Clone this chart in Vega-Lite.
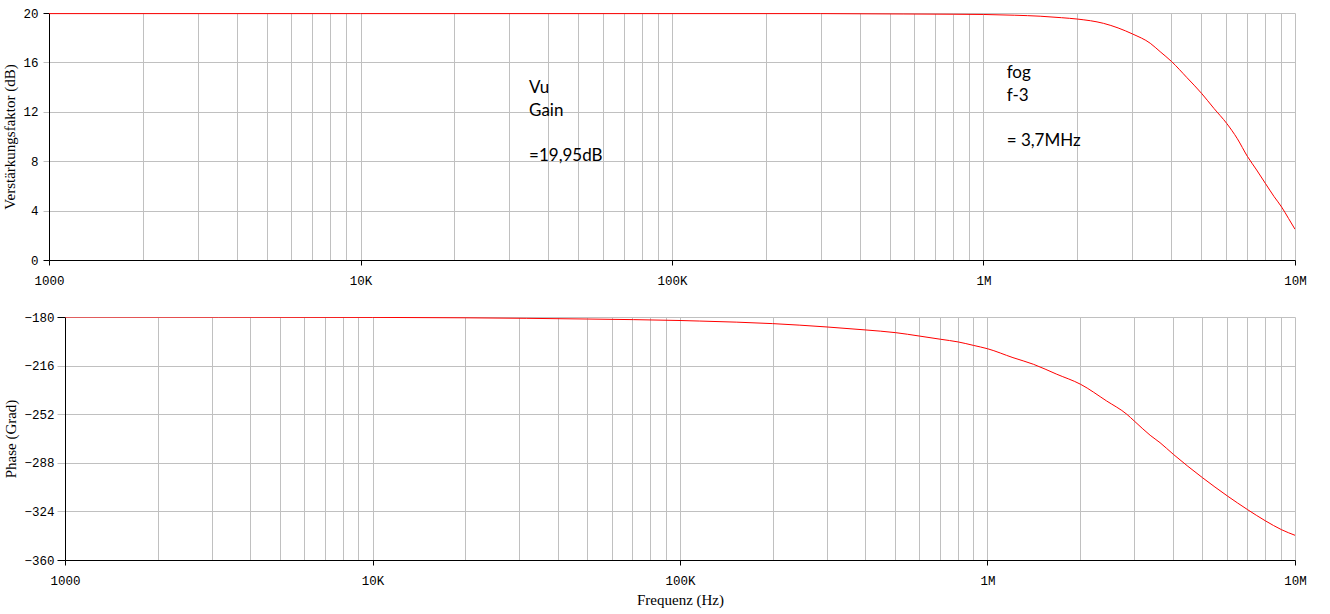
{
  "$schema": "https://vega.github.io/schema/vega-lite/v6.json",
  "background": "white",
  "padding": {"left": 2, "top": 7, "right": 10, "bottom": 2},
  "config": {
    "view": {"stroke": null},
    "axis": {
      "domainColor": "#000000",
      "domainWidth": 1,
      "tickColor": "#000000",
      "tickWidth": 1,
      "gridColor": "#c0c0c0",
      "gridWidth": 1,
      "gridOpacity": 1,
      "labelFont": "Liberation Mono",
      "labelFontSize": 12.5,
      "labelColor": "#000000",
      "titleFont": "Liberation Serif",
      "titleFontSize": 15,
      "titleFontWeight": "normal",
      "titleColor": "#000000"
    }
  },
  "datasets": {
    "gain": [
      {"f": 1000, "db": 19.95},
      {"f": 10000, "db": 19.95},
      {"f": 100000, "db": 19.95},
      {"f": 300000, "db": 19.95},
      {"f": 552000, "db": 19.92},
      {"f": 800000, "db": 19.9},
      {"f": 1000000, "db": 19.88},
      {"f": 1260000, "db": 19.82},
      {"f": 1520000, "db": 19.74},
      {"f": 1780000, "db": 19.62},
      {"f": 2000000, "db": 19.51},
      {"f": 2430000, "db": 19.16},
      {"f": 3010000, "db": 18.3},
      {"f": 3430000, "db": 17.55},
      {"f": 3690000, "db": 16.87},
      {"f": 4020000, "db": 16.06},
      {"f": 4490000, "db": 14.79},
      {"f": 5010000, "db": 13.5},
      {"f": 5490000, "db": 12.28},
      {"f": 6040000, "db": 11.05},
      {"f": 6530000, "db": 9.82},
      {"f": 7030000, "db": 8.4},
      {"f": 7530000, "db": 7.29},
      {"f": 8030000, "db": 6.21},
      {"f": 8570000, "db": 5.13},
      {"f": 9070000, "db": 4.27},
      {"f": 9530000, "db": 3.37},
      {"f": 10000000, "db": 2.49}
    ],
    "phase": [
      {"f": 1000, "deg": -180.0},
      {"f": 10000, "deg": -180.3},
      {"f": 20000, "deg": -180.6},
      {"f": 50000, "deg": -181.5},
      {"f": 100000, "deg": -182.6},
      {"f": 116000, "deg": -183.0},
      {"f": 200000, "deg": -184.9},
      {"f": 301000, "deg": -187.4},
      {"f": 402000, "deg": -189.6},
      {"f": 503000, "deg": -191.6},
      {"f": 600000, "deg": -194.1},
      {"f": 704000, "deg": -196.5},
      {"f": 804000, "deg": -198.5},
      {"f": 899000, "deg": -201.0},
      {"f": 1000000, "deg": -203.5},
      {"f": 1210000, "deg": -210.1},
      {"f": 1410000, "deg": -215.0},
      {"f": 1680000, "deg": -222.4},
      {"f": 2010000, "deg": -229.9},
      {"f": 2440000, "deg": -242.2},
      {"f": 2840000, "deg": -252.1},
      {"f": 3000000, "deg": -257.0},
      {"f": 3380000, "deg": -267.6},
      {"f": 3640000, "deg": -273.1},
      {"f": 4020000, "deg": -281.7},
      {"f": 5000000, "deg": -299.0},
      {"f": 6030000, "deg": -312.6},
      {"f": 7000000, "deg": -322.6},
      {"f": 8000000, "deg": -330.9},
      {"f": 9050000, "deg": -337.6},
      {"f": 10000000, "deg": -341.7}
    ],
    "notes": [
      {"f": 34760, "db": 13.55, "label": "Vu\nGain"},
      {"f": 34760, "db": 8.05, "label": "=19,95dB"},
      {"f": 1187000, "db": 14.74, "label": "fog\nf-3"},
      {"f": 1187000, "db": 9.2, "label": "= 3,7MHz"}
    ]
  },
  "columns": 1,
  "align": "none",
  "spacing": 24,
  "concat": [
    {
      "width": 1246,
      "height": 247,
      "layer": [
        {
          "data": {"name": "gain"},
          "mark": {"type": "line", "color": "#ff0000", "strokeWidth": 1, "clip": true, "interpolate": "monotone"},
          "encoding": {
            "x": {
              "field": "f", "type": "quantitative",
              "scale": {"type": "log", "domain": [1000, 10000000], "nice": false},
              "axis": {
                "title": null,
                "values": [1000,2000,3000,4000,5000,6000,7000,8000,9000,10000,20000,30000,40000,50000,60000,70000,80000,90000,100000,200000,300000,400000,500000,600000,700000,800000,900000,1000000,2000000,3000000,4000000,5000000,6000000,7000000,8000000,9000000,10000000],
                "labelExpr": "datum.value == 1000 ? '1000' : datum.value == 10000 ? '10K' : datum.value == 100000 ? '100K' : datum.value == 1000000 ? '1M' : datum.value == 10000000 ? '10M' : ''",
                "labelFlush": false,
                "labelOverlap": false,
                "labelBound": false,
                "grid": true,
                "tickSize": 5,
                "labelPadding": 9,
                "tickOpacity": {"condition": {"test": "datum.value == 1000 || datum.value == 10000 || datum.value == 100000 || datum.value == 1000000 || datum.value == 10000000", "value": 1}, "value": 0}
              }
            },
            "y": {
              "field": "db", "type": "quantitative",
              "scale": {"domain": [0, 20], "nice": false, "zero": false},
              "axis": {
                "title": "Verstärkungsfaktor (dB)",
                "values": [0, 4, 8, 12, 16, 20],
                "grid": true,
                "tickSize": 6,
                "labelPadding": 5,
                "titlePadding": 5,
                "tickColor": {"condition": {"test": "datum.value == 0 || datum.value == 20", "value": "#000000"}, "value": "#c0c0c0"}
              }
            }
          }
        },
        {
          "data": {"name": "notes"},
          "mark": {"type": "text", "align": "left", "baseline": "alphabetic", "font": "Lato", "fontSize": 17, "lineBreak": "\n", "lineHeight": 23, "color": "#000000"},
          "encoding": {
            "x": {"field": "f", "type": "quantitative"},
            "y": {"field": "db", "type": "quantitative"},
            "text": {"field": "label"}
          }
        }
      ]
    },
    {
      "width": 1246,
      "height": 243,
      "data": {"name": "phase"},
      "mark": {"type": "line", "color": "#ff0000", "strokeWidth": 1, "clip": true, "interpolate": "monotone"},
      "encoding": {
        "x": {
          "field": "f", "type": "quantitative",
          "scale": {"type": "log", "domain": [1000, 10000000], "nice": false, "range": [16, 1246]},
          "axis": {
            "title": "Frequenz (Hz)",
            "titlePadding": 6,
            "values": [1000,2000,3000,4000,5000,6000,7000,8000,9000,10000,20000,30000,40000,50000,60000,70000,80000,90000,100000,200000,300000,400000,500000,600000,700000,800000,900000,1000000,2000000,3000000,4000000,5000000,6000000,7000000,8000000,9000000,10000000],
            "labelExpr": "datum.value == 1000 ? '1000' : datum.value == 10000 ? '10K' : datum.value == 100000 ? '100K' : datum.value == 1000000 ? '1M' : datum.value == 10000000 ? '10M' : ''",
            "labelFlush": false,
            "labelOverlap": false,
            "labelBound": false,
            "grid": true,
            "tickSize": 5,
            "labelPadding": 9,
            "tickOpacity": {"condition": {"test": "datum.value == 1000 || datum.value == 10000 || datum.value == 100000 || datum.value == 1000000 || datum.value == 10000000", "value": 1}, "value": 0}
          }
        },
        "y": {
          "field": "deg", "type": "quantitative",
          "scale": {"domain": [-360, -180], "nice": false, "zero": false},
          "axis": {
            "title": "Phase (Grad)",
            "offset": -16,
            "values": [-360, -324, -288, -252, -216, -180],
            "grid": true,
            "tickSize": 8,
            "labelPadding": 3,
            "titlePadding": 5,
            "tickColor": {"condition": {"test": "datum.value == -360 || datum.value == -180", "value": "#000000"}, "value": "#c0c0c0"}
          }
        }
      }
    }
  ]
}
